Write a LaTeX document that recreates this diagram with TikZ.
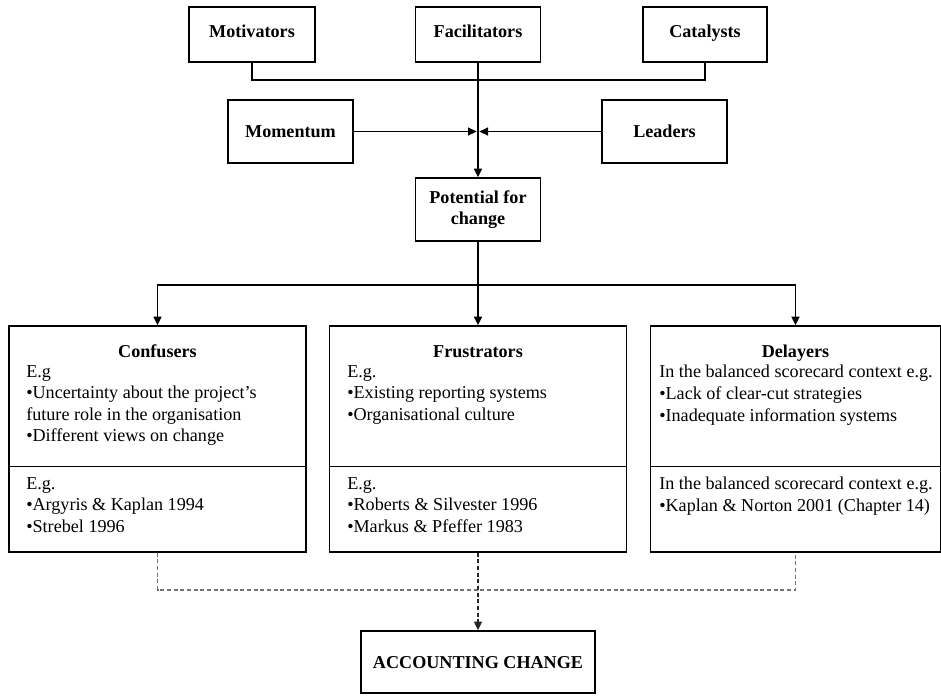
\documentclass[tikz,border=0pt]{standalone}
\usepackage{fontspec}
\setmainfont{Liberation Serif}
\usetikzlibrary{arrows.meta}
\begin{document}
\begin{tikzpicture}[x=0.75pt,y=-0.75pt,
  every node/.style={font=\fontsize{13.6}{16.2}\selectfont},
  box/.style 2 args={draw,line width=1.1pt,minimum width=#1*0.75pt,minimum height=#2*0.75pt,inner sep=0pt},
  label/.style={font=\fontsize{13.6}{16.2}\selectfont\bfseries,align=center},
  tag/.style={label,text height=12pt,text depth=3pt},
  hightag/.style={label,text height=9.5pt,text depth=5pt},
  body/.style={anchor=north west,align=left,inner sep=0pt},
  link/.style={line width=1.1pt},
  arr/.style={link,-{Triangle[width=6pt,length=6.5pt]}},
  dline/.style={line width=0.8pt,draw=black!55,dash pattern=on 3pt off 2pt},
  darr/.style={line width=0.8pt,draw=black!85,fill=black,dash pattern=on 3pt off 2pt,-{Triangle[width=6pt,length=6.5pt]}}]
\useasboundingbox (0,0) rectangle (941,697);

% upper row of influences
\node[box={126}{55},hightag] (motiv) at (252,34.5) {Motivators};
\node[box={125}{55},hightag] (facil) at (478,34.5) {Facilitators};
\node[box={124}{55},hightag] (cat) at (705,34.5) {Catalysts};
\node[box={125}{63},tag] (mom) at (290.5,131.5) {Momentum};
\node[box={125}{63},tag] (lead) at (664.5,131.5) {Leaders};
\node[box={125}{63},label] (pot) at (478,209.5) {Potential for\\change};

% three groups of barriers
\node[box={297}{226}] (conf) at (157.5,439) {};
\node[box={297}{226}] (frus) at (478,439) {};
\node[box={290}{226}] (dela) at (795.5,439) {};
\foreach \b in {conf,frus,dela}
  \draw[link] ([yshift=64.5pt]\b.south west) -- ([yshift=64.5pt]\b.south east);

\node[box={234}{62},tag] (acc) at (478,662) {ACCOUNTING CHANGE};

% texts of the barrier boxes
\node[tag] (tconf) at (157.5,351) {Confusers};
\node[tag] (tfrus) at (478,351) {Frustrators};
\node[tag] (tdela) at (795.5,351) {Delayers};

\node[body] (bconf) at (26,365) {E.g\\•Uncertainty about the project’s\\future role in the organisation\\•Different views on change};
\node[body] (rconf) at (26,477) {E.g.\\•Argyris \& Kaplan 1994\\•Strebel 1996};
\node[body] (bfrus) at (347,365) {E.g.\\•Existing reporting systems\\•Organisational culture};
\node[body] (rfrus) at (347,477) {E.g.\\•Roberts \& Silvester 1996\\•Markus \& Pfeffer 1983};
\node[body] (bdela) at (659,365) {In the balanced scorecard context e.g.\\•Lack of clear-cut strategies\\•Inadequate information systems};
\node[body] (rdela) at (659,477) {In the balanced scorecard context e.g.\\•Kaplan \& Norton 2001 (Chapter 14)};

% junction points
\coordinate (bus) at (478,80);
\coordinate (mid) at (478,131.5);
\coordinate (split) at (478,285);
\coordinate (dbus) at (478,590);

% connectors
\draw[link] (motiv.south) |- (bus) -| (cat.south);
\draw[arr] (facil.south) -- (pot.north);
\draw[arr,shorten >=1pt] (mom.east) -- (mid);
\draw[arr,shorten >=1pt] (lead.west) -- (mid);
\draw[arr] (pot.south) -- (frus.north);
\draw[arr] (split) -| (conf.north);
\draw[arr] (split) -| (dela.north);

\draw[dline] (conf.south) |- (dbus) -| (dela.south);
\draw[darr] (frus.south) -- (acc.north);
\end{tikzpicture}
\end{document}
